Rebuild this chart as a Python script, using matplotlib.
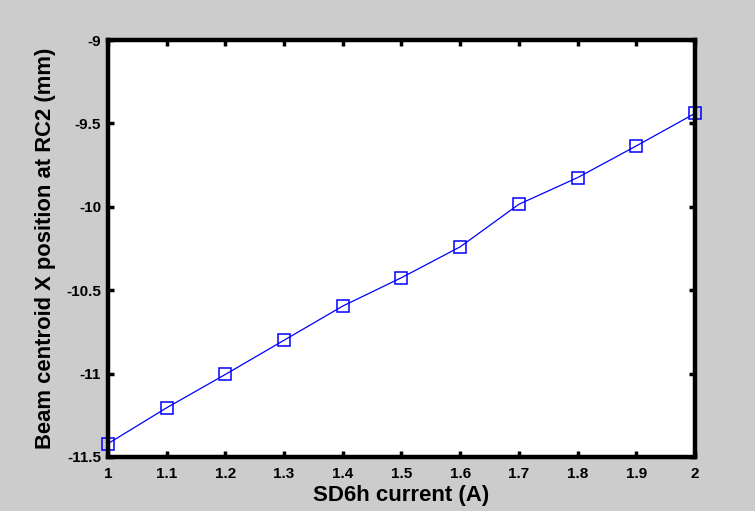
import matplotlib
matplotlib.use("Agg")
import matplotlib.pyplot as plt

# SD6h current scan and resulting beam centroid X at RC2
current_a = [1.0, 1.1, 1.2, 1.3, 1.4, 1.5, 1.6, 1.7, 1.8, 1.9, 2.0]
centroid_x_mm = [-11.42, -11.205, -11.005, -10.80, -10.595, -10.425,
                 -10.24, -9.985, -9.825, -9.635, -9.44]

x_ticks = [1.0, 1.1, 1.2, 1.3, 1.4, 1.5, 1.6, 1.7, 1.8, 1.9, 2.0]
x_tick_labels = ["1", "1.1", "1.2", "1.3", "1.4", "1.5", "1.6", "1.7", "1.8", "1.9", "2"]
y_ticks = [-11.5, -11.0, -10.5, -10.0, -9.5, -9.0]
y_tick_labels = ["-11.5", "-11", "-10.5", "-10", "-9.5", "-9"]

plt.rcParams["font.family"] = ["Liberation Sans", "DejaVu Sans"]

fig = plt.figure(figsize=(7.55, 5.11), dpi=100, facecolor="#cccccc")
ax = fig.add_axes([0.143, 0.1057, 0.7775, 0.816])
ax.set_facecolor("white")

ax.plot(current_a, centroid_x_mm, color="#0000ff", linewidth=0.9,
        marker="s", markersize=9, markerfacecolor="none",
        markeredgecolor="#0000ff", markeredgewidth=1.1, clip_on=False)

ax.set_xlim(1.0, 2.0)
ax.set_ylim(-11.5, -9.0)
ax.set_xticks(x_ticks)
ax.set_xticklabels(x_tick_labels)
ax.set_yticks(y_ticks)
ax.set_yticklabels(y_tick_labels)

for side in ["top", "bottom", "left", "right"]:
    ax.spines[side].set_linewidth(3.2)
    ax.spines[side].set_color("black")

ax.tick_params(direction="in", length=4, width=2.5, top=True, right=True,
               labelsize=11, colors="black")
ax.tick_params(axis="x", pad=7)
ax.tick_params(axis="y", pad=5)
for lbl in ax.get_xticklabels() + ax.get_yticklabels():
    lbl.set_fontweight("bold")

ax.set_xlabel("SD6h current (A)", fontsize=16, fontweight="bold", labelpad=3)
ax.set_ylabel("Beam centroid X position at RC2 (mm)", fontsize=15.8,
              fontweight="bold", labelpad=7)

fig.savefig("out.png", dpi=100, facecolor=fig.get_facecolor())
